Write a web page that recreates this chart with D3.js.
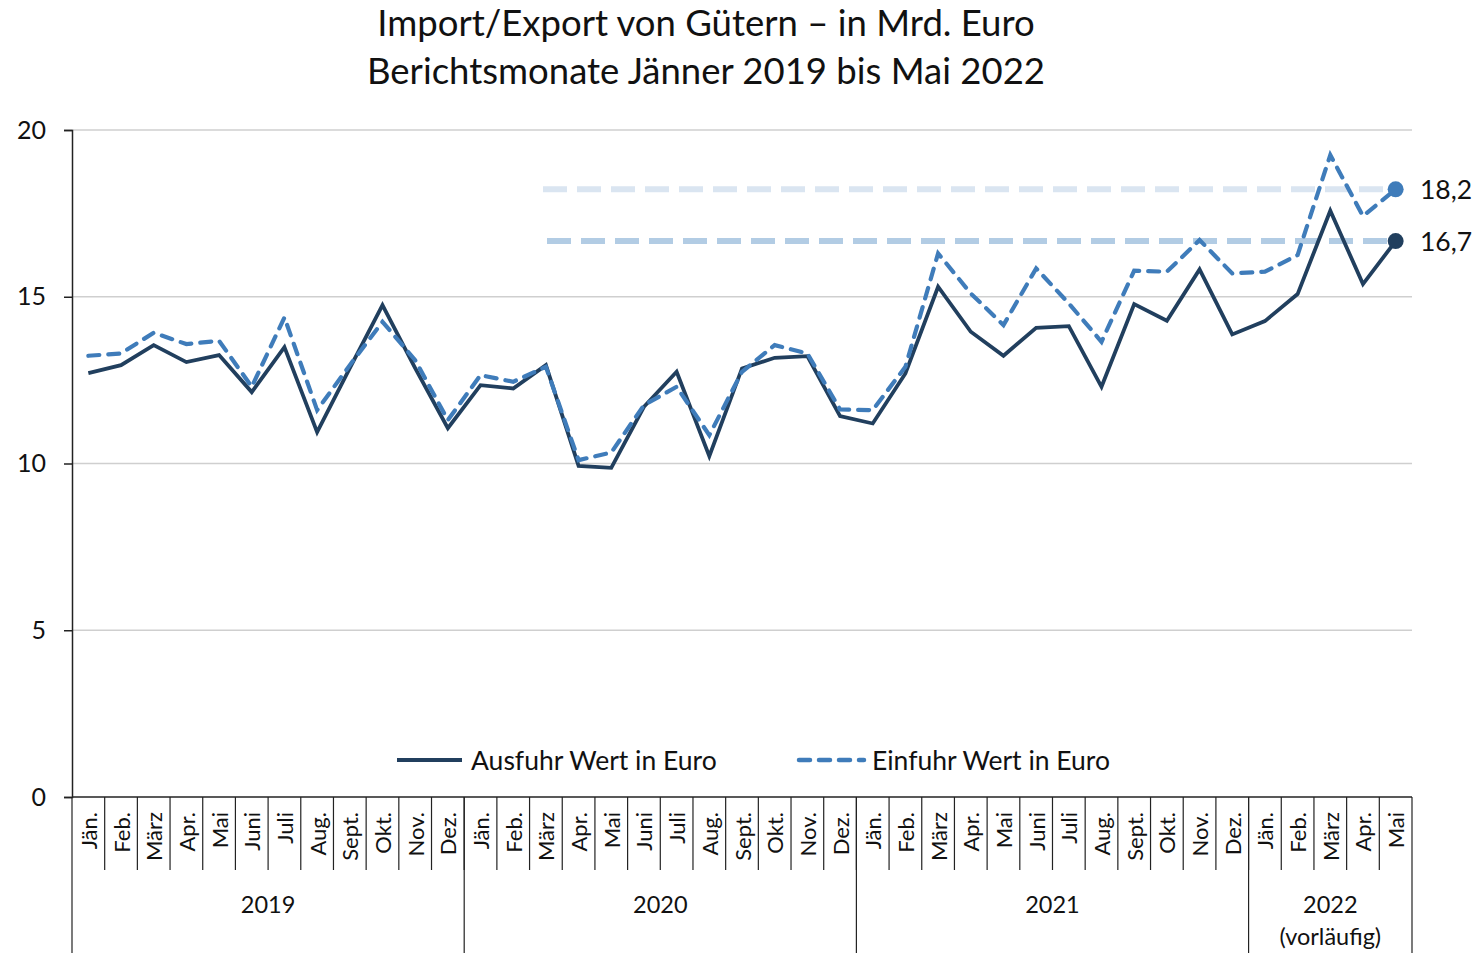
<!DOCTYPE html>
<html lang="de">
<head>
<meta charset="UTF-8">
<title>Import/Export von Gütern</title>
<script src="https://cdn.jsdelivr.net/npm/d3@7"></script>
<style>
    body { margin: 0; background: #fff; }
    svg { font-family: Lato, "Open Sans", sans-serif; display: block; }
</style>
</head>
<body>
<svg id="chart" width="1481" height="953"></svg>
<script>
    // data (Mrd. Euro)
    const months = ["Jän.", "Feb.", "März", "Apr.", "Mai", "Juni", "Juli", "Aug.", "Sept.", "Okt.", "Nov.", "Dez."];
    const years = ["2019", "2020", "2021", "2022"];
    const yearLabels = [["2019"], ["2020"], ["2021"], ["2022", "(vorläufig)"]];
    const monthsPerYear = [12, 12, 12, 5];
    const ausfuhr = [
        12.71, 12.95, 13.55, 13.04, 13.25, 12.14, 13.49, 10.94, 12.86, 14.75, 12.86, 11.06,
        12.35, 12.25, 12.95, 9.93, 9.87, 11.70, 12.75, 10.22, 12.85, 13.17, 13.22, 11.42,
        11.20, 12.70, 15.30, 13.95, 13.23, 14.07, 14.12, 12.30, 14.78, 14.28, 15.82, 13.87,
        14.27, 15.08, 17.58, 15.38, 16.67
    ];
    const einfuhr = [
        13.23, 13.30, 13.92, 13.58, 13.68, 12.30, 14.38, 11.60, 12.95, 14.25, 13.10, 11.30,
        12.65, 12.45, 12.90, 10.10, 10.33, 11.75, 12.30, 10.85, 12.75, 13.55, 13.30, 11.62,
        11.60, 12.90, 16.30, 15.10, 14.15, 15.85, 14.80, 13.65, 15.78, 15.75, 16.70, 15.70,
        15.75, 16.25, 19.25, 17.42, 18.22
    ];
    const yTicks = [0, 5, 10, 15, 20];
    const endLabels = ["16,7", "18,2"];

    const svg = d3.select("#chart");
    const plotLeft = 72, plotRight = 1412, plotTop = 130, plotBottom = 797;
    const darkBlue = "#213f5e", midBlue = "#3f7cba";

    // build period keys
    const periods = [];
    years.forEach((yr, i) => {
        for (let m = 0; m < monthsPerYear[i]; m++) periods.push({ key: yr + "-" + m, month: months[m], year: yr });
    });

    const x = d3.scaleBand().domain(periods.map(d => d.key)).range([plotLeft, plotRight]).padding(0);
    const y = d3.scaleLinear().domain([0, 20]).range([plotBottom, plotTop]);
    const cx = i => x(periods[i].key) + x.bandwidth() / 2;

    // title
    svg.append("text").attr("x", 706).attr("y", 36).attr("text-anchor", "middle")
        .attr("font-size", 36.5).attr("fill", "#111").text("Import/Export von Gütern – in Mrd. Euro");
    svg.append("text").attr("x", 706).attr("y", 84).attr("text-anchor", "middle")
        .attr("font-size", 36.5).attr("fill", "#111").text("Berichtsmonate Jänner 2019 bis Mai 2022");

    // gridlines
    svg.append("g").selectAll("line").data(yTicks.filter(d => d > 0)).join("line")
        .attr("x1", plotLeft).attr("x2", plotRight)
        .attr("y1", d => y(d)).attr("y2", d => y(d))
        .attr("stroke", "#cfcfcf").attr("stroke-width", 1.5);

    // y axis
    const yAxis = svg.append("g").attr("transform", `translate(${plotLeft},0)`)
        .call(d3.axisLeft(y).tickValues(yTicks).tickSize(8).tickPadding(18).tickFormat(d3.format("d")));
    yAxis.select(".domain").attr("stroke", "#222").attr("stroke-width", 1.5);
    yAxis.selectAll(".tick line").attr("stroke", "#222").attr("stroke-width", 1.5);
    yAxis.selectAll(".tick text").attr("font-size", 25).attr("fill", "#111").attr("font-family", "Lato, sans-serif");

    // x axis baseline
    svg.append("line").attr("x1", plotLeft).attr("x2", plotRight).attr("y1", plotBottom).attr("y2", plotBottom)
        .attr("stroke", "#222").attr("stroke-width", 1.5);

    // month dividers
    const monthBottom = 870, yearBottom = 953;
    svg.append("g").selectAll("line").data(periods.slice(1)).join("line")
        .attr("x1", d => x(d.key)).attr("x2", d => x(d.key))
        .attr("y1", plotBottom).attr("y2", monthBottom)
        .attr("stroke", "#222").attr("stroke-width", 1.2);

    // year dividers
    const yearStarts = [];
    let idx = 0;
    years.forEach((yr, i) => { yearStarts.push(idx); idx += monthsPerYear[i]; });
    const yearEdges = yearStarts.map(i => x(periods[i].key)).concat([plotRight]);
    svg.append("g").selectAll("line").data(yearEdges).join("line")
        .attr("x1", d => d).attr("x2", d => d)
        .attr("y1", plotBottom).attr("y2", yearBottom)
        .attr("stroke", "#222").attr("stroke-width", 1.2);

    // month labels (rotated)
    svg.append("g").selectAll("text").data(periods).join("text")
        .attr("transform", (d, i) => `translate(${cx(i)},812) rotate(-90)`)
        .attr("text-anchor", "end").attr("dominant-baseline", "central")
        .attr("font-size", 22).attr("fill", "#111")
        .text(d => d.month);

    // year labels
    years.forEach((yr, i) => {
        const mid = (yearEdges[i] + yearEdges[i + 1]) / 2;
        yearLabels[i].forEach((t, j) => {
            svg.append("text").attr("x", mid).attr("y", 913 + j * 32).attr("text-anchor", "middle")
                .attr("font-size", 23.5).attr("fill", "#111").text(t);
        });
    });

    // reference lines at last values
    const last = periods.length - 1;
    svg.append("line").attr("x1", 543).attr("x2", cx(last))
        .attr("y1", y(einfuhr[last])).attr("y2", y(einfuhr[last]))
        .attr("stroke", "#dae5f1").attr("stroke-width", 6).attr("stroke-dasharray", "24,10");
    svg.append("line").attr("x1", 547).attr("x2", cx(last))
        .attr("y1", y(ausfuhr[last])).attr("y2", y(ausfuhr[last]))
        .attr("stroke", "#b2cce4").attr("stroke-width", 6).attr("stroke-dasharray", "24,10");

    // series lines
    const line = d3.line().x((d, i) => cx(i)).y(d => y(d));
    svg.append("path").datum(ausfuhr).attr("d", line)
        .attr("fill", "none").attr("stroke", darkBlue).attr("stroke-width", 3.8).attr("stroke-linejoin", "miter");
    svg.append("path").datum(einfuhr).attr("d", line)
        .attr("fill", "none").attr("stroke", midBlue).attr("stroke-width", 4.2)
        .attr("stroke-dasharray", "11,9").attr("stroke-linecap", "round");

    // end markers and labels
    [[ausfuhr, darkBlue, endLabels[0]], [einfuhr, midBlue, endLabels[1]]].forEach(([s, c, t]) => {
        svg.append("circle").attr("cx", cx(last)).attr("cy", y(s[last])).attr("r", 8).attr("fill", c);
        svg.append("text").attr("x", 1420).attr("y", y(s[last])).attr("dominant-baseline", "central")
            .attr("font-size", 26.5).attr("fill", "#111").text(t);
    });

    // legend
    const lg = svg.append("g");
    lg.append("line").attr("x1", 397).attr("x2", 462).attr("y1", 760).attr("y2", 760)
        .attr("stroke", darkBlue).attr("stroke-width", 4);
    lg.append("text").attr("x", 471).attr("y", 760).attr("dominant-baseline", "central")
        .attr("font-size", 26.5).attr("fill", "#111").text("Ausfuhr Wert in Euro");
    lg.append("line").attr("x1", 799).attr("x2", 864).attr("y1", 760).attr("y2", 760)
        .attr("stroke", midBlue).attr("stroke-width", 4.5).attr("stroke-dasharray", "11,9").attr("stroke-linecap", "round");
    lg.append("text").attr("x", 872).attr("y", 760).attr("dominant-baseline", "central")
        .attr("font-size", 26.5).attr("fill", "#111").text("Einfuhr Wert in Euro");
</script>
</body>
</html>
